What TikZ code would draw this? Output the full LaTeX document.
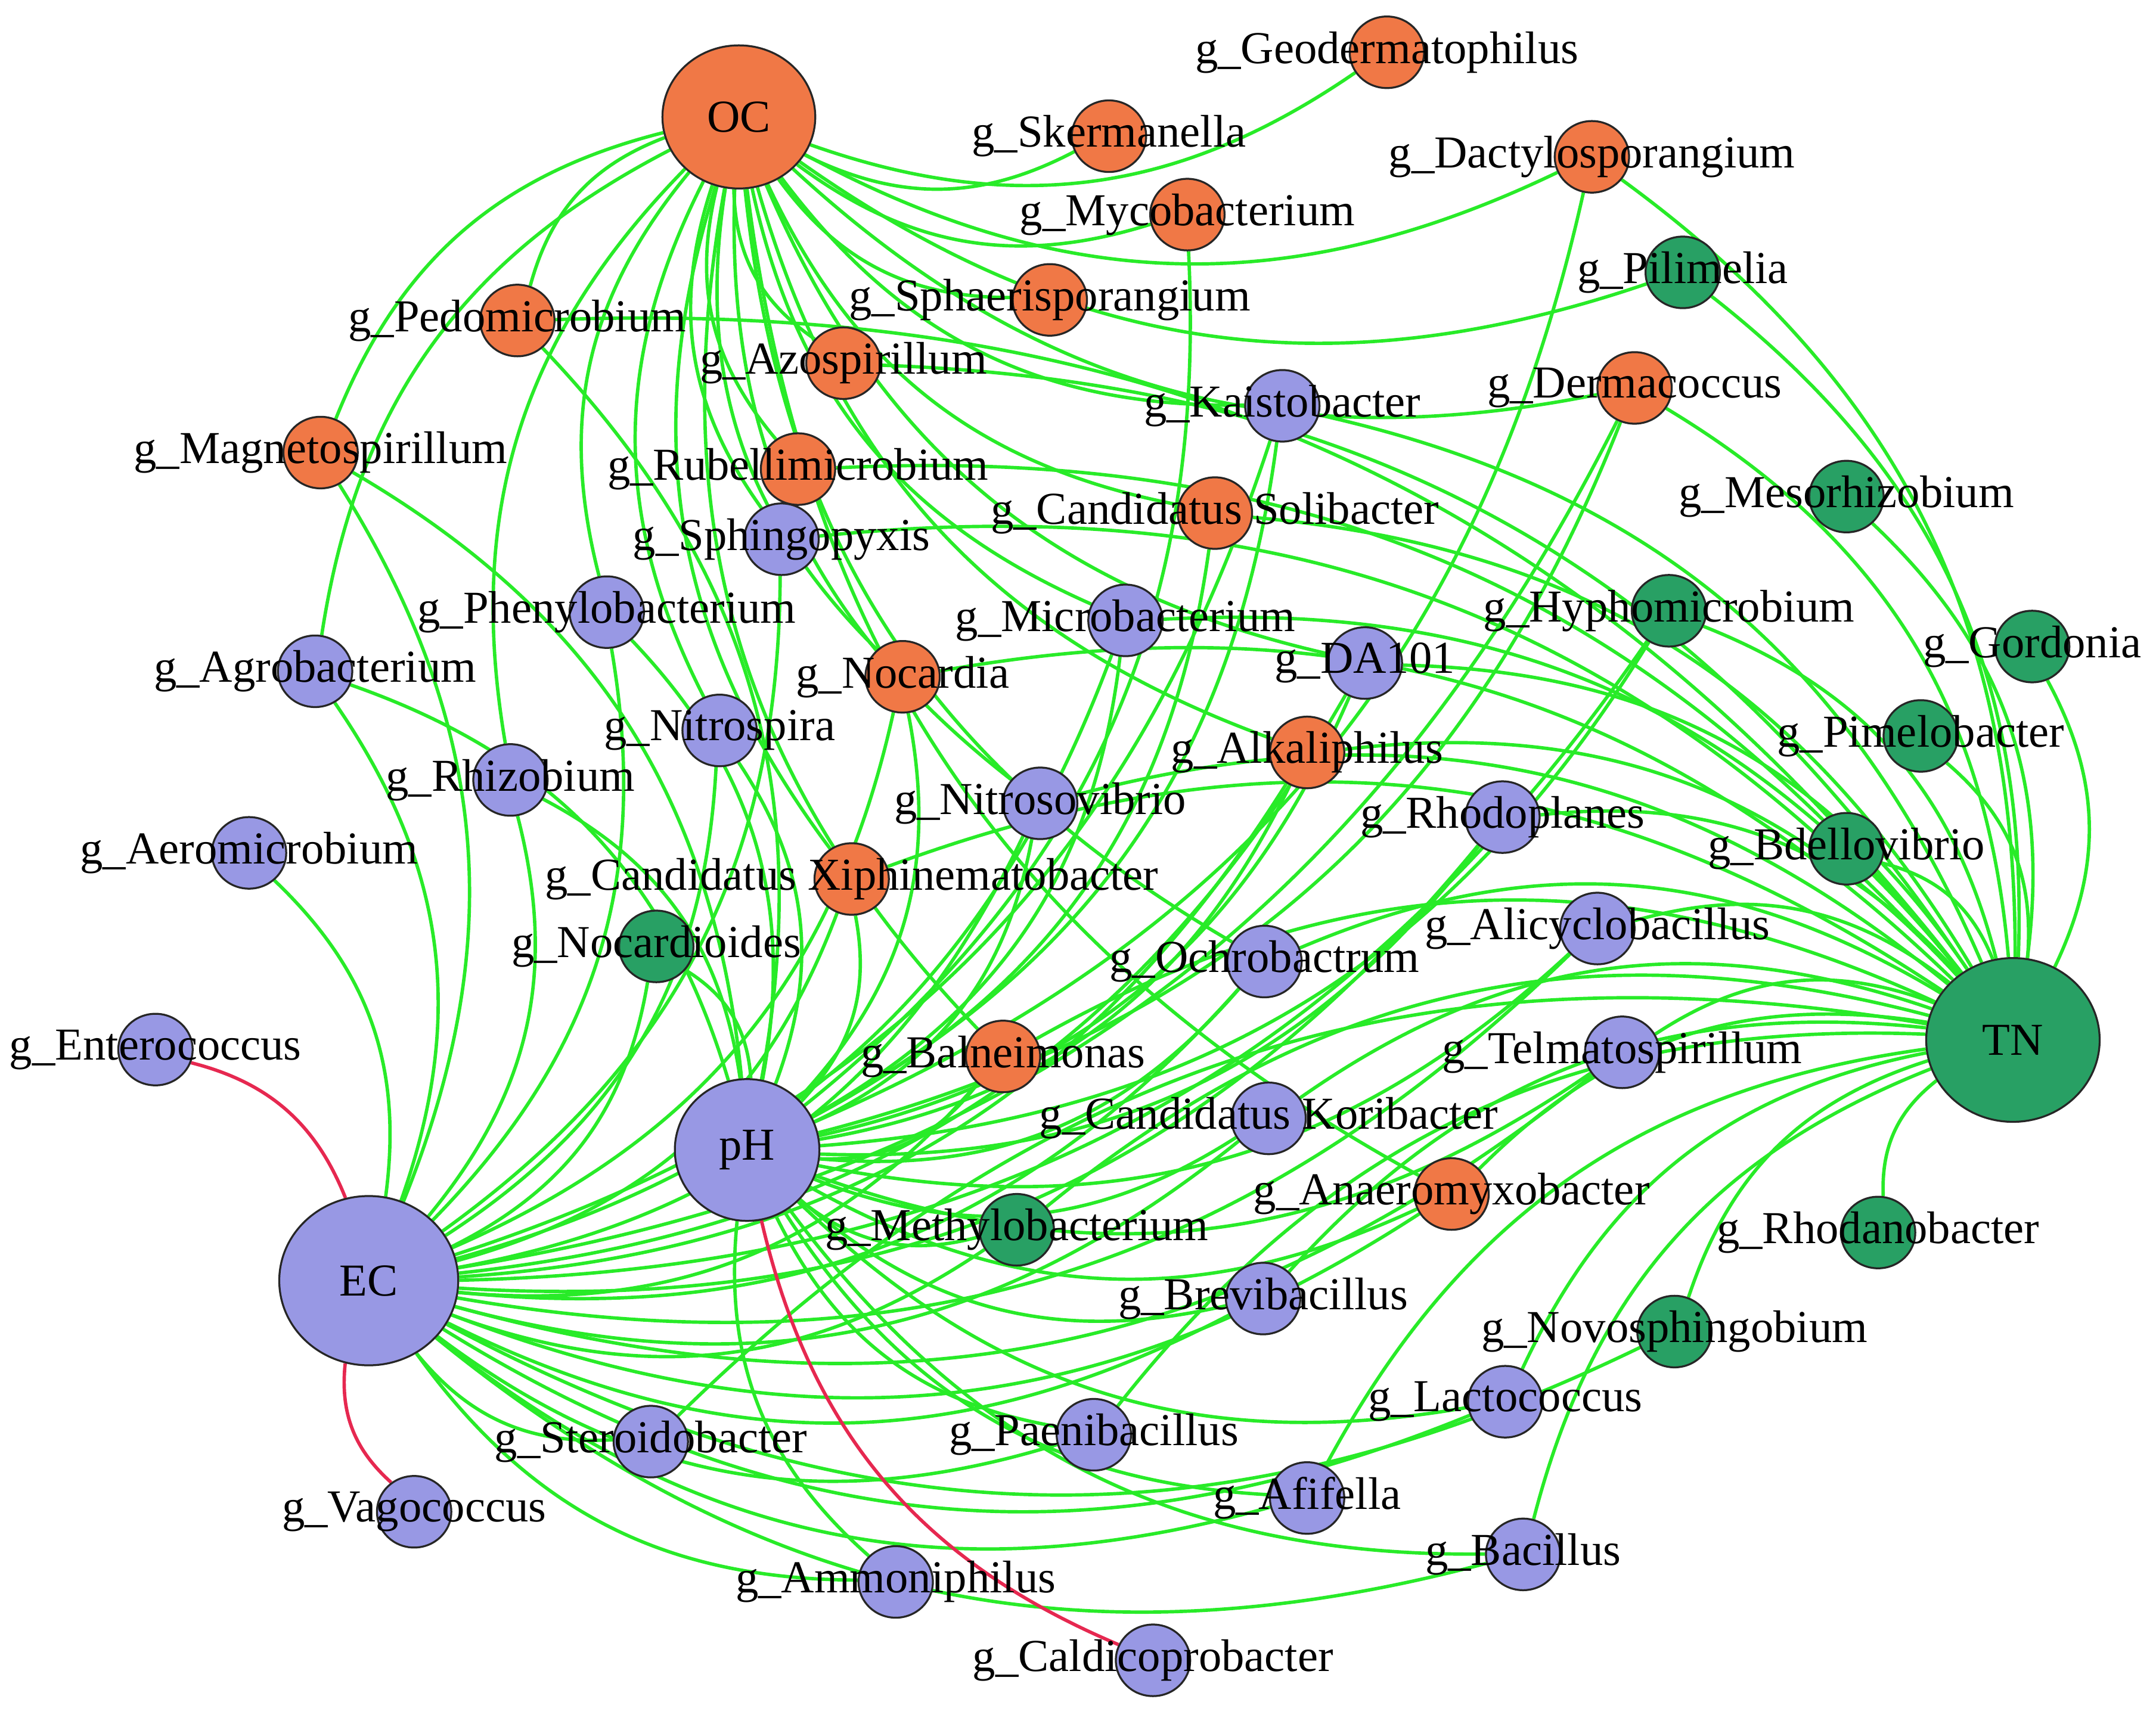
\documentclass[tikz,border=0pt]{standalone}
\usepackage{fontspec}
\setmainfont{Liberation Serif}
\usetikzlibrary{shapes.geometric}
\pgfdeclarelayer{bg}
\pgfdeclarelayer{fg}
\pgfsetlayers{bg,main,fg}
\definecolor{cor}{RGB}{240,120,70}
\definecolor{cpu}{RGB}{152,152,228}
\definecolor{cgr}{RGB}{40,160,100}
\definecolor{egreen}{RGB}{40,235,40}
\definecolor{ered}{RGB}{230,40,80}
\tikzset{
  gn/.style={ellipse, draw=black!85, line width=0.4pt, minimum width=0.54cm, minimum height=0.52cm, inner sep=0pt},
  lbl/.style={font=\fontsize{9.45}{11}\selectfont, inner sep=0pt, text=black},
  edge/.style={draw=egreen, line width=0.7pt},
  redge/.style={draw=ered, line width=0.7pt},
}
\newcommand\gnd[5]{%
  \node[gn,fill=#4] (#1) at (#2,#3) {};
  \begin{pgfonlayer}{fg}\node[lbl] at (#2,#3) {#5};\end{pgfonlayer}}
\begin{document}
\begin{tikzpicture}[x=0.01cm,y=-0.01cm]
\useasboundingbox (0,0) rectangle (1567,1257.6);
% hubs
\node[gn,fill=cor,minimum width=1.11cm,minimum height=1.04cm] (OC) at (537,85) {};
\node[gn,fill=cpu,minimum width=1.05cm,minimum height=1.03cm] (pH) at (543,836) {};
\node[gn,fill=cpu,minimum width=1.30cm,minimum height=1.23cm] (EC) at (268,931) {};
\node[gn,fill=cgr,minimum width=1.26cm,minimum height=1.19cm] (TN) at (1463,756) {};
\begin{pgfonlayer}{fg}
\node[lbl] at (OC) {OC};
\node[lbl] at (pH) {pH};
\node[lbl] at (EC) {EC};
\node[lbl] at (TN) {TN};
\end{pgfonlayer}
% genera
\gnd{geo}{1008}{38}{cor}{g\_Geodermatophilus}
\gnd{sker}{806}{99}{cor}{g\_Skermanella}
\gnd{dact}{1157}{114}{cor}{g\_Dactylosporangium}
\gnd{myco}{863}{156}{cor}{g\_Mycobacterium}
\gnd{pili}{1223}{198}{cgr}{g\_Pilimelia}
\gnd{sphae}{763}{218}{cor}{g\_Sphaerisporangium}
\gnd{pedo}{376}{233}{cor}{g\_Pedomicrobium}
\gnd{azo}{613}{264}{cor}{g\_Azospirillum}
\gnd{kais}{932}{295}{cpu}{g\_Kaistobacter}
\gnd{derm}{1188}{282}{cor}{g\_Dermacoccus}
\gnd{magn}{233}{329}{cor}{g\_Magnetospirillum}
\gnd{rub}{580}{341}{cor}{g\_Rubellimicrobium}
\gnd{meso}{1342}{361}{cgr}{g\_Mesorhizobium}
\gnd{soli}{883}{373}{cor}{g\_Candidatus Solibacter}
\gnd{sphi}{568}{392}{cpu}{g\_Sphingopyxis}
\gnd{phen}{441}{445}{cpu}{g\_Phenylobacterium}
\gnd{micro}{818}{451}{cpu}{g\_Microbacterium}
\gnd{hyph}{1213}{444}{cgr}{g\_Hyphomicrobium}
\gnd{gord}{1477}{470}{cgr}{g\_Gordonia}
\gnd{agro}{229}{488}{cpu}{g\_Agrobacterium}
\gnd{da}{992}{482}{cpu}{g\_DA101}
\gnd{noca}{656}{492}{cor}{g\_Nocardia}
\gnd{nitsp}{523}{531}{cpu}{g\_Nitrospira}
\gnd{pime}{1396}{535}{cgr}{g\_Pimelobacter}
\gnd{alka}{950}{547}{cor}{g\_Alkaliphilus}
\gnd{rhiz}{371}{567}{cpu}{g\_Rhizobium}
\gnd{nitro}{756}{584}{cpu}{g\_Nitrosovibrio}
\gnd{rhodo}{1092}{594}{cpu}{g\_Rhodoplanes}
\gnd{bdel}{1342}{617}{cgr}{g\_Bdellovibrio}
\gnd{aero}{181}{620}{cpu}{g\_Aeromicrobium}
\gnd{xiph}{619}{639}{cor}{g\_Candidatus Xiphinematobacter}
\gnd{alicy}{1161}{675}{cpu}{g\_Alicyclobacillus}
\gnd{nocd}{477}{688}{cgr}{g\_Nocardioides}
\gnd{ochro}{919}{699}{cpu}{g\_Ochrobactrum}
\gnd{entero}{113}{763}{cpu}{g\_Enterococcus}
\gnd{balne}{729}{768}{cor}{g\_Balneimonas}
\gnd{telma}{1179}{765}{cpu}{g\_Telmatospirillum}
\gnd{kori}{922}{813}{cpu}{g\_Candidatus Koribacter}
\gnd{anae}{1055}{868}{cor}{g\_Anaeromyxobacter}
\gnd{methyl}{739}{894}{cgr}{g\_Methylobacterium}
\gnd{rhodan}{1365}{896}{cgr}{g\_Rhodanobacter}
\gnd{brevi}{918}{944}{cpu}{g\_Brevibacillus}
\gnd{novo}{1217}{968}{cgr}{g\_Novosphingobium}
\gnd{lacto}{1094}{1019}{cpu}{g\_Lactococcus}
\gnd{stero}{473}{1048}{cpu}{g\_Steroidobacter}
\gnd{paeni}{795}{1043}{cpu}{g\_Paenibacillus}
\gnd{afif}{950}{1089}{cpu}{g\_Afifella}
\gnd{vago}{301}{1099}{cpu}{g\_Vagococcus}
\gnd{bacil}{1107}{1130}{cpu}{g\_Bacillus}
\gnd{ammon}{651}{1150}{cpu}{g\_Ammoniphilus}
\gnd{caldi}{838}{1207}{cpu}{g\_Caldicoprobacter}
% edges
\begin{pgfonlayer}{bg}
\foreach \t in {geo,sker,dact,myco,pili,sphae,pedo,azo,rub,sphi,soli,kais,derm,magn,agro,phen,rhiz,nitsp,noca,micro,da,alka,nitro,xiph,ochro,balne,anae}
  \draw[edge] (OC) to[bend right=27] (\t);
\foreach \t in {dact,pili,pedo,azo,rub,kais,derm,meso,soli,sphi,micro,hyph,gord,da,noca,pime,alka,nitro,rhodo,bdel,xiph,alicy,ochro,balne,telma,kori,anae,methyl,rhodan,brevi,novo,lacto,afif,bacil,paeni,stero}
  \draw[edge] (TN) to[bend right=27] (\t);
\foreach \t in {dact,myco,pedo,kais,derm,magn,soli,phen,da,noca,nitsp,alka,rhiz,nitro,rhodo,xiph,nocd,ochro,balne,alicy,telma,kori,anae,methyl,brevi,lacto,paeni,afif,bacil,ammon,agro,hyph,micro}
  \draw[edge] (pH) to[bend right=27] (\t);
\foreach \t in {kais,derm,magn,sphi,phen,agro,rhiz,aero,noca,nitsp,micro,hyph,alka,nitro,rhodo,xiph,nocd,ochro,balne,alicy,telma,kori,anae,methyl,brevi,novo,lacto,stero,paeni,afif,bacil,ammon,da}
  \draw[edge] (EC) to[bend right=27] (\t);
\draw[redge] (EC) to[bend right=27] (entero);
\draw[redge] (EC) to[bend right=27] (vago);
\draw[redge] (pH) to[bend right=27] (caldi);
\end{pgfonlayer}
\end{tikzpicture}
\end{document}
